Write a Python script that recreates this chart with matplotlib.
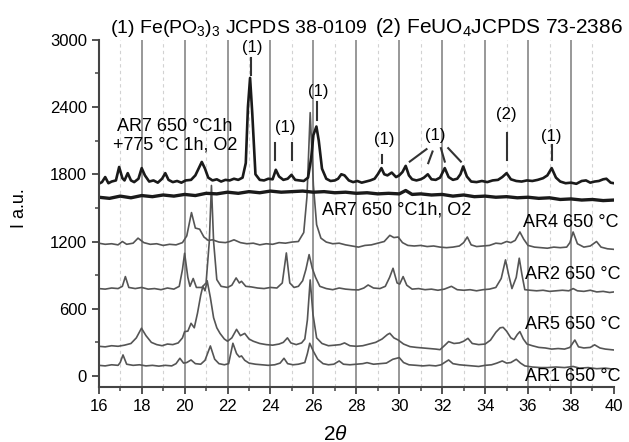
import matplotlib
matplotlib.use('Agg')
import matplotlib.pyplot as plt
import numpy as np

plt.rcParams['font.family'] = ['Liberation Sans', 'DejaVu Sans']
plt.rcParams['mathtext.fontset'] = 'custom'
plt.rcParams['mathtext.rm'] = 'Liberation Sans'
plt.rcParams['mathtext.it'] = 'Liberation Sans:italic'

# AR7 650 C 1h + 775 C 1h, O2 (top black trace)
ar7b_x = [16.0, 16.15, 16.3, 16.45, 16.6, 16.8, 16.95, 17.1, 17.2, 17.35, 17.5, 17.65, 17.85, 18.0,
          18.15, 18.35, 18.55, 18.75, 18.95, 19.1, 19.25, 19.45, 19.65, 19.85, 20.05, 20.3, 20.5,
          20.65, 20.8, 20.95, 21.1, 21.3, 21.5, 21.7, 21.9, 22.1, 22.3, 22.5, 22.7, 22.85, 22.95,
          23.05, 23.15, 23.3, 23.5, 23.7, 23.9, 24.1, 24.25, 24.4, 24.6, 24.8, 24.98, 25.15, 25.35,
          25.55, 25.75, 25.9, 26.0, 26.14, 26.25, 26.4, 26.6, 26.8, 27.0, 27.15, 27.3, 27.45, 27.65,
          27.85, 28.05, 28.25, 28.45, 28.65, 28.85, 29.0, 29.17, 29.3, 29.45, 29.65, 29.85, 30.0,
          30.15, 30.3, 30.45, 30.6, 30.8, 31.0, 31.15, 31.33, 31.5, 31.7, 31.9, 32.12, 32.3, 32.5,
          32.7, 32.85, 32.98, 33.15, 33.35, 33.6, 33.85, 34.1, 34.35, 34.6, 34.8, 35.0, 35.2, 35.45,
          35.7, 35.95, 36.2, 36.45, 36.7, 36.9, 37.1, 37.3, 37.5, 37.75, 38.0, 38.25, 38.5, 38.7,
          38.9, 39.1, 39.3, 39.5, 39.65, 39.85, 40.0]
ar7b_y = [1715, 1730, 1775, 1720, 1735, 1745, 1865, 1765, 1745, 1810, 1745, 1730, 1760, 1855,
          1790, 1735, 1745, 1725, 1760, 1810, 1750, 1730, 1740, 1725, 1745, 1750, 1790,
          1850, 1910, 1850, 1770, 1745, 1755, 1735, 1750, 1745, 1760, 1750, 1770, 1900, 2400,
          2660, 2350, 1800, 1750, 1745, 1760, 1755, 1840, 1780, 1750, 1760, 1795, 1750, 1745,
          1740, 1770, 1950, 2150, 2226, 2100, 1850, 1760, 1740, 1745, 1760, 1800, 1790, 1745,
          1730, 1740, 1725, 1735, 1745, 1760, 1800, 1855, 1800, 1790, 1815, 1775, 1790,
          1820, 1875, 1790, 1755, 1745, 1755, 1770, 1800, 1755, 1750, 1770, 1855, 1775, 1750,
          1760, 1800, 1870, 1780, 1735, 1730, 1740, 1730, 1745, 1750, 1775, 1810, 1755, 1740,
          1735, 1745, 1740, 1750, 1765, 1790, 1855, 1770, 1735, 1720, 1725, 1715, 1740, 1745,
          1725, 1735, 1740, 1755, 1760, 1725, 1720]

# AR7 650 C 1h, O2 (flat black trace)
ar7a_x = [16, 16.5, 17, 17.5, 18, 18.5, 19, 19.5, 20, 20.5, 21, 21.5, 22, 22.5, 23, 23.5, 24, 24.5,
          25, 25.5, 26, 26.5, 27, 27.5, 28, 28.5, 29, 29.5, 30, 30.3, 30.6, 31, 31.5, 32, 32.5, 33,
          33.5, 34, 34.5, 35, 35.5, 36, 36.5, 37, 37.5, 38, 38.5, 39, 39.5, 40]
ar7a_y = [1595, 1585, 1605, 1590, 1610, 1600, 1615, 1605, 1620, 1610, 1630, 1625, 1640, 1630, 1645,
          1635, 1650, 1640, 1645, 1650, 1640, 1645, 1635, 1640, 1630, 1635, 1625, 1630, 1625, 1655,
          1620, 1625, 1615, 1620, 1605, 1615, 1600, 1605, 1595, 1600, 1590, 1595, 1585, 1590, 1575,
          1580, 1570, 1575, 1565, 1570]

# AR4 650 C
ar4_x = [16.0, 16.3, 16.6, 16.9, 17.1, 17.3, 17.6, 17.83, 18.1, 18.4, 18.7, 19.0, 19.3, 19.6, 19.9,
         20.1, 20.32, 20.5, 20.7, 20.9, 21.1, 21.3, 21.6, 21.9, 22.1, 22.3, 22.6, 22.9, 23.2, 23.5,
         23.8, 24.1, 24.4, 24.7, 25.0, 25.3, 25.55, 25.7, 25.85, 26.0, 26.15, 26.35, 26.6, 26.9,
         27.2, 27.5, 27.8, 28.1, 28.4, 28.7, 29.0, 29.3, 29.56, 29.75, 29.95, 30.15, 30.4, 30.7,
         31.0, 31.3, 31.6, 31.9, 32.2, 32.5, 32.8, 33.0, 33.17, 33.35, 33.6, 33.9, 34.2, 34.5,
         34.75, 35.0, 35.2, 35.4, 35.62, 35.8, 36.0, 36.3, 36.6, 36.9, 37.2, 37.5, 37.8, 37.95,
         38.1, 38.3, 38.6, 38.9, 39.19, 39.4, 39.7, 40.0]
ar4_y = [1185, 1175, 1180, 1170, 1200, 1175, 1185, 1230, 1190, 1175, 1180, 1165, 1175, 1170, 1190,
         1250, 1458, 1320, 1310, 1240, 1210, 1215, 1195, 1190, 1200, 1215, 1190, 1180, 1185, 1170,
         1180, 1175, 1190, 1185, 1195, 1200, 1280, 1600, 2350, 1700, 1350, 1230, 1195, 1180,
         1185, 1170, 1160, 1150, 1165, 1170, 1185, 1200, 1255, 1235, 1240, 1190, 1165, 1160,
         1165, 1155, 1160, 1150, 1145, 1150, 1160, 1190, 1240, 1170, 1155, 1160, 1165, 1185,
         1180, 1200, 1190, 1210, 1285, 1220, 1165, 1150, 1145, 1140, 1150, 1145, 1150, 1190,
         1285, 1180, 1150, 1160, 1200, 1150, 1135, 1130]

# AR2 650 C
ar2_x = [16.0, 16.3, 16.6, 16.9, 17.1, 17.24, 17.4, 17.7, 18.0, 18.3, 18.6, 18.9, 19.2, 19.5, 19.75,
         19.9, 20.0, 20.15, 20.25, 20.4, 20.55, 20.8, 21.0, 21.15, 21.25, 21.35, 21.5, 21.7, 22.0,
         22.2, 22.4, 22.55, 22.65, 22.85, 23.1, 23.4, 23.7, 24.0, 24.3, 24.55, 24.74, 24.9, 25.1,
         25.3, 25.5, 25.65, 25.8, 25.95, 26.1, 26.3, 26.6, 26.9, 27.2, 27.5, 27.8, 28.1, 28.35,
         28.55, 28.8, 29.1, 29.35, 29.55, 29.71, 29.9, 30.02, 30.18, 30.35, 30.6, 30.9, 31.2, 31.5,
         31.8, 32.1, 32.43, 32.7, 33.0, 33.3, 33.6, 33.9, 34.2, 34.5, 34.75, 34.95, 35.1, 35.25,
         35.45, 35.59, 35.72, 35.85, 36.1, 36.4, 36.7, 37.0, 37.3, 37.6, 37.9, 38.1, 38.3, 38.6,
         38.9, 39.2, 39.5, 39.8, 40.0]
ar2_y = [780, 775, 785, 780, 800, 887, 790, 780, 790, 775, 780, 770, 785, 775, 800,
         950, 1095, 880, 800, 870, 790, 790, 830, 1200, 1700, 1200, 860, 800, 790,
         810, 875, 830, 845, 800, 795, 785, 780, 790, 785, 830, 1098, 830, 790,
         800, 850, 950, 1083, 960, 880, 800, 780, 770, 785, 775, 770, 768, 785,
         812, 785, 780, 800, 880, 961, 830, 820, 887, 810, 775, 780, 770, 775,
         765, 775, 800, 770, 765, 770, 760, 770, 775, 790, 870, 1036, 900, 780,
         880, 1051, 900, 770, 765, 760, 765, 755, 760, 765, 760, 780, 760, 755,
         765, 750, 755, 745, 750]

# AR5 650 C
ar5_x = [16.0, 16.3, 16.6, 16.9, 17.2, 17.5, 17.75, 17.99, 18.2, 18.45, 18.7, 18.95, 19.2, 19.45,
         19.7, 19.9, 20.0, 20.15, 20.3, 20.45, 20.6, 20.75, 20.85, 20.95, 21.05, 21.2, 21.35, 21.5,
         21.65, 21.85, 22.0, 22.2, 22.42, 22.6, 22.8, 23.0, 23.2, 23.5, 23.8, 24.1, 24.4, 24.6,
         24.79, 24.95, 25.2, 25.45, 25.6, 25.72, 25.85, 25.98, 26.15, 26.4, 26.7, 27.0, 27.25,
         27.45, 27.7, 28.0, 28.3, 28.6, 28.9, 29.2, 29.45, 29.56, 29.75, 29.95, 30.2, 30.5, 30.8,
         31.1, 31.4, 31.7, 31.9, 32.1, 32.3, 32.55, 32.8, 33.0, 33.2, 33.4, 33.7, 34.0, 34.25,
         34.5, 34.7, 34.84, 35.0, 35.2, 35.35, 35.5, 35.62, 35.78, 35.95, 36.2, 36.5, 36.8, 37.1,
         37.4, 37.7, 37.95, 38.18, 38.35, 38.6, 38.9, 39.1, 39.35, 39.6, 39.85, 40.0]
ar5_y = [265, 260, 270, 265, 275, 290, 340, 426, 360, 300, 280, 270, 285, 280,
         295, 340, 396, 400, 470, 430, 560, 720, 800, 760, 850, 700, 520, 430,
         380, 330, 310, 340, 416, 360, 380, 330, 310, 290, 280, 275, 285, 300,
         340, 295, 280, 295, 330, 500, 857, 550, 340, 290, 270, 275, 280,
         295, 270, 265, 270, 285, 300, 330, 370, 381, 340, 321, 285, 262, 255,
         250, 245, 240, 235, 270, 307, 290, 295, 310, 336, 290, 280, 285, 320,
         390, 430, 434, 400, 340, 325, 370, 396, 330, 285, 270, 255, 250, 240,
         245, 240, 255, 321, 260, 250, 255, 278, 250, 240, 235, 232]

# AR1 650 C
ar1_x = [16.0, 16.3, 16.6, 16.9, 17.0, 17.13, 17.3, 17.6, 17.9, 18.2, 18.5, 18.8, 19.1, 19.4, 19.6,
         19.78, 19.95, 20.1, 20.3, 20.5, 20.75, 20.95, 21.2, 21.4, 21.6, 21.85, 22.05, 22.25, 22.42,
         22.55, 22.65, 22.8, 23.0, 23.3, 23.6, 23.9, 24.2, 24.45, 24.63, 24.8, 25.05, 25.3, 25.6,
         25.72, 25.83, 26.0, 26.2, 26.45, 26.7, 26.95, 27.2, 27.4, 27.7, 28.0, 28.3, 28.5, 28.8,
         29.1, 29.4, 29.7, 30.0, 30.2, 30.45, 30.8, 31.1, 31.4, 31.7, 31.95, 32.15, 32.3, 32.5,
         32.8, 33.1, 33.4, 33.7, 34.0, 34.3, 34.55, 34.8, 35.0, 35.2, 35.45, 35.65, 35.85, 36.2,
         36.6, 36.9, 37.3, 37.7, 38.1, 38.4, 38.8, 39.2, 39.6, 40.0]
ar1_y = [95, 90, 100, 95, 120, 188, 105, 95, 100, 90, 95, 88, 95, 90, 110,
         158, 115, 120, 143, 110, 105, 140, 268, 150, 110, 100, 110, 292, 200,
         170, 179, 140, 115, 105, 100, 95, 100, 115, 158, 110, 100, 105, 120,
         200, 292, 220, 150, 110, 100, 105, 134, 105, 100, 105, 110, 119, 105,
         110, 115, 149, 164, 120, 100, 95, 90, 95, 90, 100, 125, 143, 110,
         100, 95, 90, 85, 95, 100, 115, 134, 115, 120, 149, 115, 90, 80,
         75, 75, 80, 75, 85, 70, 75, 65, 70, 60]

x_ticks = [16, 18, 20, 22, 24, 26, 28, 30, 32, 34, 36, 38, 40]
y_ticks = [0, 600, 1200, 1800, 2400, 3000]

fig = plt.figure(figsize=(6.29, 4.42), dpi=100)
ax = fig.add_axes([0.157, 0.124, 0.819, 0.786])

for v in range(18, 40, 2):
    ax.axvline(v, color='#989898', lw=1.4, zorder=0)
for v in range(17, 40, 2):
    ax.axvline(v, color='#d2d2d2', lw=0.8, ls=(0, (3, 3)), zorder=0)

gray = '#555555'
ax.plot(ar1_x, ar1_y, color=gray, lw=1.2)
ax.plot(ar5_x, ar5_y, color=gray, lw=1.2)
ax.plot(ar2_x, ar2_y, color=gray, lw=1.2)
ax.plot(ar4_x, ar4_y, color=gray, lw=1.2)
ax.plot(ar7a_x, ar7a_y, color='#1a1a1a', lw=2.4)
ax.plot(ar7b_x, ar7b_y, color='#1a1a1a', lw=1.9)

ax.set_xlim(16, 40)
ax.set_ylim(-100, 3000)
ax.set_xticks(x_ticks)
ax.set_xticks(range(17, 40, 2), minor=True)
ax.set_yticks(y_ticks)
ax.set_yticks(range(300, 3000, 600), minor=True)
ax.tick_params(which='major', length=5, width=1.3, labelsize=12, color='#444444')
ax.tick_params(which='minor', length=3, width=1.1, color='#444444')
for s in ['top', 'right']:
    ax.spines[s].set_visible(False)
for s in ['left', 'bottom']:
    ax.spines[s].set_linewidth(1.5)
    ax.spines[s].set_color('#444444')

# peak markers
mk = dict(color='#333333', lw=1.5)
ax.plot([23.08, 23.08], [2688, 2839], **mk)
ax.plot([24.23, 24.23], [1929, 2080], **mk)
ax.plot([25.0, 25.0], [1929, 2080], **mk)
ax.plot([26.19, 26.19], [2286, 2446], **mk)
ax.plot([29.2, 29.2], [1902, 1973], **mk)
ax.plot([31.27, 30.49], [2024, 1913], **mk)
ax.plot([31.55, 31.35], [2003, 1899], **mk)
ax.plot([31.94, 32.12], [2033, 1913], **mk)
ax.plot([32.28, 32.87], [2033, 1913], **mk)
ax.plot([35.0, 35.0], [1929, 2170], **mk)
ax.plot([37.1, 37.1], [1929, 2062], **mk)

lab = dict(ha='center', va='center', fontsize=12)
ax.text(23.15, 2928, '(1)', **lab)
ax.text(24.67, 2214, '(1)', **lab)
ax.text(26.22, 2536, '(1)', **lab)
ax.text(29.3, 2107, '(1)', **lab)
ax.text(31.7, 2143, '(1)', **lab)
ax.text(35.0, 2330, '(2)', **lab)
ax.text(37.1, 2134, '(1)', **lab)

ax.text(19.54, 2143, 'AR7 650 °C1h\n+775 °C 1h, O2', ha='center', va='center',
        fontsize=13, linespacing=1.15)
ax.text(26.39, 1482, 'AR7 650 °C1h, O2', ha='left', va='center', fontsize=13)
ax.text(35.76, 1366, 'AR4 650 °C', ha='left', va='center', fontsize=13, clip_on=False)
ax.text(35.85, 902, 'AR2 650 °C', ha='left', va='center', fontsize=13, clip_on=False)
ax.text(35.85, 455, 'AR5 650 °C', ha='left', va='center', fontsize=13, clip_on=False)
ax.text(35.85, -9, 'AR1 650 °C', ha='left', va='center', fontsize=13, clip_on=False)

fig.text(110 / 629, 1 - 33 / 442, r'(1) Fe(PO$_3$)$_3$ JCPDS 38-0109', fontsize=14, va='baseline')
fig.text(375 / 629, 1 - 33 / 442, r'(2) FeUO$_4$JCPDS 73-2386', fontsize=15, va='baseline')

fig.text(20 / 629, 1 - 208 / 442, 'I a.u.', rotation=90, ha='center', va='center', fontsize=13)
fig.text(335 / 629, 1 - 434 / 442, r'2$\theta$', ha='center', va='center', fontsize=15)

fig.savefig('out.png', dpi=100)
